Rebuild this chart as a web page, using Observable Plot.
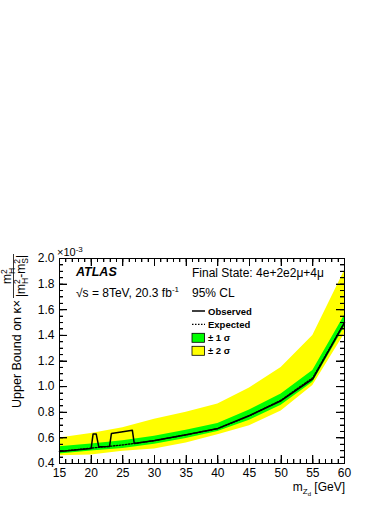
<!DOCTYPE html>
<html>
<head>
<meta charset="utf-8">
<script src="https://cdn.jsdelivr.net/npm/d3@7"></script>
<script src="https://cdn.jsdelivr.net/npm/@observablehq/plot@0.6"></script>
<style>
  html, body { margin: 0; padding: 0; background: #fff; }
  svg { display: block; }
</style>
</head>
<body>
<div id="chart"></div>
<script>
// Expected limit and bands, m_Zd grid [GeV]
const mass = [15, 20, 25, 30, 35, 40, 45, 50, 55, 60];
const expected = [0.494, 0.520, 0.545, 0.578, 0.624, 0.672, 0.772, 0.895, 1.070, 1.500];
const sigma1Lo = [0.475, 0.497, 0.518, 0.550, 0.595, 0.650, 0.738, 0.855, 1.035, 1.463];
const sigma1Hi = [0.530, 0.552, 0.578, 0.612, 0.660, 0.712, 0.818, 0.943, 1.125, 1.555];
const sigma2Lo = [0.461, 0.466, 0.495, 0.513, 0.560, 0.625, 0.695, 0.810, 1.008, 1.410];
const sigma2Hi = [0.600, 0.635, 0.680, 0.745, 0.800, 0.865, 0.990, 1.150, 1.400, 1.905];

// Observed limit
const obsMass = [15, 20, 20.3, 20.8, 21.2, 22.9, 23.2, 25, 26.5, 26.8, 30, 35, 40, 45, 50, 55, 60];
const observed = [0.494, 0.518, 0.630, 0.630, 0.530, 0.532, 0.635, 0.648, 0.660, 0.557, 0.580, 0.625, 0.674, 0.775, 0.890, 1.060, 1.500];

// Axis ticks
const xTickLabels = [15, 20, 25, 30, 35, 40, 45, 50, 55, 60];
const yTickLabels = [0.4, 0.6, 0.8, 1.0, 1.2, 1.4, 1.6, 1.8, 2.0];

const bands = mass.map((m, i) => ({m, exp: expected[i], s1lo: sigma1Lo[i], s1hi: sigma1Hi[i], s2lo: sigma2Lo[i], s2hi: sigma2Hi[i]}));
const obs = obsMass.map((m, i) => ({m, v: observed[i]}));

const xMinor = d3.range(15, 60.001, 1).map(d => +d.toFixed(3));
const yMinor = d3.range(0.4, 2.0001, 0.05).map(d => +d.toFixed(3));

const W = 391, H = 506, ML = 59, MR = 47, MT = 258, MB = 43;
const FW = W - ML - MR, FH = H - MT - MB;

// inward tick marks on all four sides (tick spans frame, inset leaves only len px)
const ticksX = (data, len) => [
  Plot.tickX(data, {x: d => d, insetTop: FH - len, stroke: "black", strokeWidth: 1}),
  Plot.tickX(data, {x: d => d, insetBottom: FH - len, stroke: "black", strokeWidth: 1})
];
const ticksY = (data, len) => [
  Plot.tickY(data, {y: d => d, insetRight: FW - len, stroke: "black", strokeWidth: 1}),
  Plot.tickY(data, {y: d => d, insetLeft: FW - len, stroke: "black", strokeWidth: 1})
];

const font = "'Liberation Sans', Arial, Helvetica, sans-serif";

const svg = Plot.plot({
  width: W,
  height: H,
  marginLeft: ML,
  marginRight: MR,
  marginTop: MT,
  marginBottom: MB,
  style: {fontFamily: font, fontSize: "12px", background: "white", color: "black"},
  x: {domain: [15, 60]},
  y: {domain: [0.4, 2.0]},
  marks: [
    Plot.areaY(bands, {x: "m", y1: "s2lo", y2: "s2hi", fill: "#ffff00", curve: "linear"}),
    Plot.areaY(bands, {x: "m", y1: "s1lo", y2: "s1hi", fill: "#00ff00", curve: "linear"}),
    Plot.line(bands, {x: "m", y: "exp", stroke: "black", strokeWidth: 1.3, strokeDasharray: "1.5,1.5"}),
    Plot.line(obs, {x: "m", y: "v", stroke: "black", strokeWidth: 1.5}),
    Plot.frame({stroke: "black", strokeWidth: 1}),
    ...ticksX(xMinor, 4),
    ...ticksX(xTickLabels, 8),
    ...ticksY(yMinor, 4),
    ...ticksY(yTickLabels, 8),
    Plot.axisX({ticks: xTickLabels, tickSize: 0, tickPadding: 5, label: null, fontSize: 12}),
    Plot.axisY({ticks: yTickLabels, tickSize: 0, tickPadding: 5, label: null, fontSize: 12, tickFormat: d => d.toFixed(1)})
  ]
});

const s = d3.select(svg);

// reinforce inward ticks using Plot's own scales
const sx = svg.scale("x"), sy = svg.scale("y");
const tg = s.append("g").attr("stroke", "black").attr("stroke-width", 1).attr("shape-rendering", "crispEdges");
const fTop = MT, fBottom = H - MB, fLeft = ML, fRight = W - MR;
const addX = (vals, len) => vals.forEach(v => {
  const px = Math.round(sx.apply(v)) + 0.5;
  tg.append("line").attr("x1", px).attr("x2", px).attr("y1", fBottom).attr("y2", fBottom - len);
  tg.append("line").attr("x1", px).attr("x2", px).attr("y1", fTop).attr("y2", fTop + len);
});
const addY = (vals, len) => vals.forEach(v => {
  const py = Math.round(sy.apply(v)) + 0.5;
  tg.append("line").attr("y1", py).attr("y2", py).attr("x1", fLeft).attr("x2", fLeft + len);
  tg.append("line").attr("y1", py).attr("y2", py).attr("x1", fRight).attr("x2", fRight - len);
});
addX(xMinor, 4); addX(xTickLabels, 8); addY(yMinor, 4); addY(yTickLabels, 8);

const g = s.append("g").attr("font-family", font).attr("fill", "black").attr("text-anchor", "start");

// x10^-3
const e3 = g.append("text").attr("x", 57).attr("y", 256).attr("font-size", 11);
e3.append("tspan").text("×10");
e3.append("tspan").attr("dy", -4).attr("font-size", 8).text("-3");

// y-axis title
const yt = g.append("text").attr("transform", "translate(21,408) rotate(-90)").attr("font-size", 12.5);
yt.text("Upper Bound on κ×");
// fraction
const fr = g.append("g").attr("transform", "translate(0,276) rotate(-90)");
const num = fr.append("text").attr("x", 0).attr("y", 11).attr("text-anchor", "middle").attr("font-size", 12);
num.append("tspan").text("m");
num.append("tspan").attr("dy", -4.5).attr("font-size", 8.5).text("2");
num.append("tspan").attr("dx", -4.7).attr("dy", 8).attr("font-size", 8.5).text("H");
fr.append("line").attr("x1", -22).attr("x2", 22).attr("y1", 13.5).attr("y2", 13.5).attr("stroke", "black").attr("stroke-width", 0.8);
const den = fr.append("text").attr("x", 0).attr("y", 24.5).attr("text-anchor", "middle").attr("font-size", 12);
den.append("tspan").text("|m");
den.append("tspan").attr("dy", -4.5).attr("font-size", 8.5).text("2");
den.append("tspan").attr("dx", -4.7).attr("dy", 8).attr("font-size", 8.5).text("H");
den.append("tspan").attr("dy", -3.5).text("-m");
den.append("tspan").attr("dy", -4.5).attr("font-size", 8.5).text("2");
den.append("tspan").attr("dx", -4.7).attr("dy", 8).attr("font-size", 8.5).text("S");
den.append("tspan").attr("dy", -3.5).text("|");

// x-axis title
const xt = g.append("text").attr("x", 345).attr("y", 491).attr("text-anchor", "end").attr("font-size", 12);
xt.append("tspan").text("m");
xt.append("tspan").attr("dy", 3).attr("font-size", 8).text("Z");
xt.append("tspan").attr("dy", 2).attr("font-size", 6).text("d");
xt.append("tspan").attr("dy", -5).text(" [GeV]");

// annotations
g.append("text").attr("x", 76).attr("y", 276).attr("font-size", 12.5).attr("font-weight", "bold").attr("font-style", "italic").text("ATLAS");
const rs = g.append("text").attr("x", 76).attr("y", 296.5).attr("font-size", 12);
rs.append("tspan").text("√s = 8TeV, 20.3 fb");
rs.append("tspan").attr("dy", -5).attr("font-size", 8).text("-1");
g.append("text").attr("x", 192).attr("y", 276.5).attr("font-size", 12).text("Final State: 4e+2e2μ+4μ");
g.append("text").attr("x", 192).attr("y", 296.5).attr("font-size", 12).text("95% CL");

// legend
const lg = g.append("g").attr("font-size", 9.5).attr("font-weight", "bold");
lg.append("line").attr("x1", 192).attr("x2", 205).attr("y1", 311).attr("y2", 311).attr("stroke", "black").attr("stroke-width", 1.5);
lg.append("text").attr("x", 208).attr("y", 314.5).text("Observed");
lg.append("line").attr("x1", 192).attr("x2", 205).attr("y1", 324.3).attr("y2", 324.3).attr("stroke", "black").attr("stroke-width", 1.3).attr("stroke-dasharray", "1.5,1.5");
lg.append("text").attr("x", 208).attr("y", 327.8).text("Expected");
lg.append("rect").attr("x", 192).attr("y", 333.3).attr("width", 12.5).attr("height", 9).attr("fill", "#00ff00").attr("stroke", "black").attr("stroke-width", 0.8);
lg.append("text").attr("x", 208).attr("y", 341.3).text("± 1 σ");
lg.append("rect").attr("x", 192).attr("y", 346.3).attr("width", 12.5).attr("height", 9).attr("fill", "#ffff00").attr("stroke", "black").attr("stroke-width", 0.8);
lg.append("text").attr("x", 208).attr("y", 354.3).text("± 2 σ");

document.getElementById("chart").appendChild(svg);
</script>
</body>
</html>
